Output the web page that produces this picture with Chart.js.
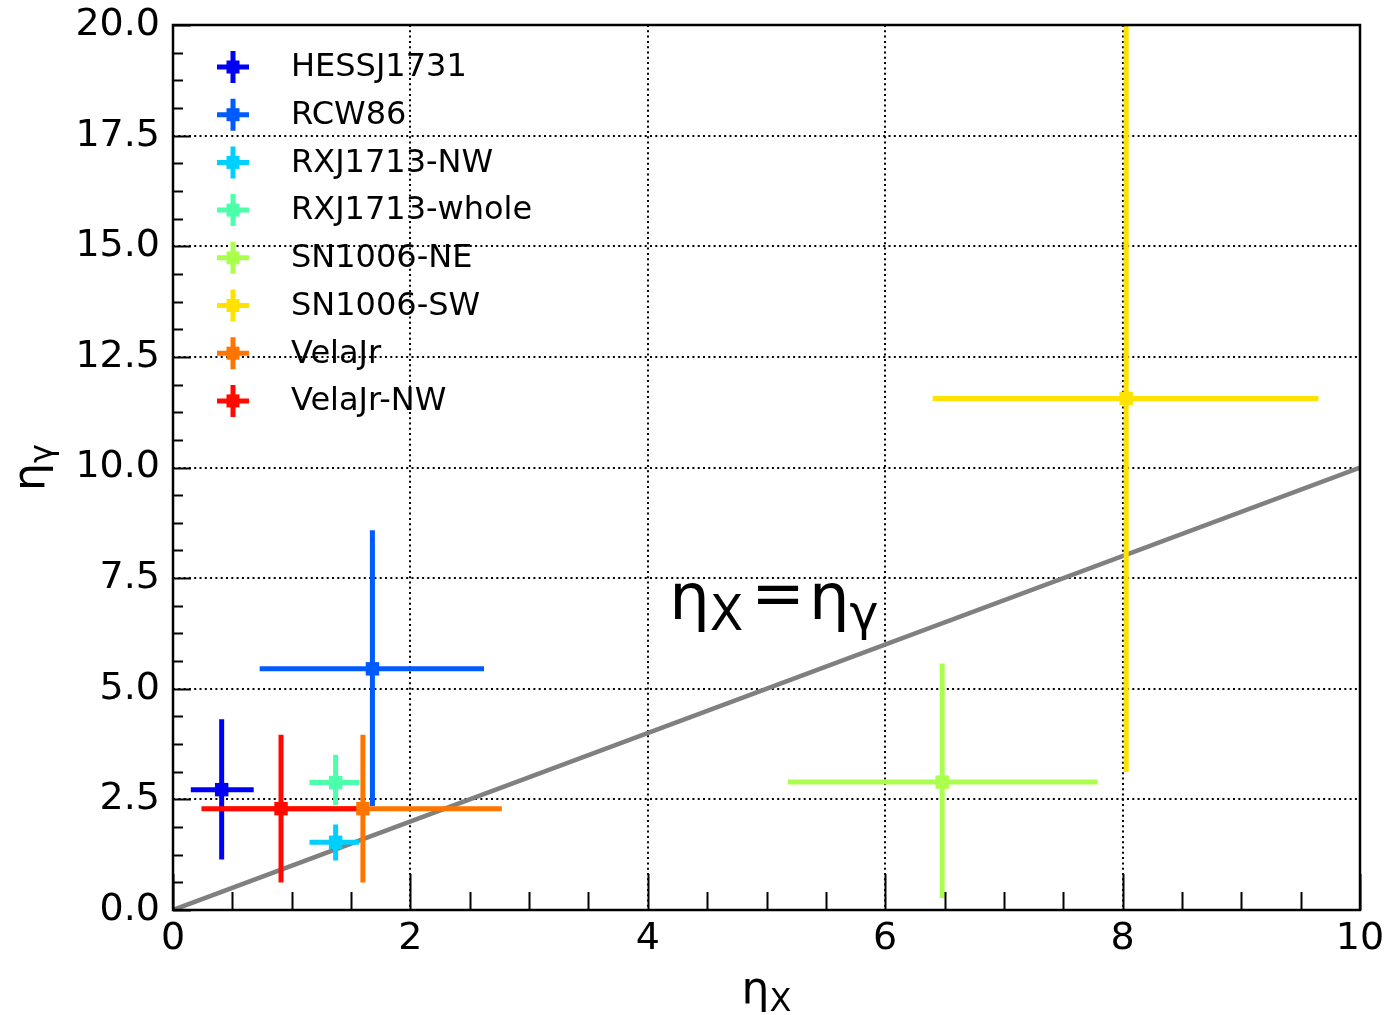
<!DOCTYPE html>
<html>
<head>
<meta charset="utf-8">
<script src="https://cdn.jsdelivr.net/npm/chart.js@4.4.1/dist/chart.umd.min.js"></script>
<style>
  html, body { margin: 0; padding: 0; background: #fff; }
  #wrap { width: 1388px; height: 1015px; }
</style>
</head>
<body>
<div id="wrap"><canvas id="plot" width="1388" height="1015"></canvas></div>
<script>
// sources and their jet colours
const sources = ['HESSJ1731', 'RCW86', 'RXJ1713-NW', 'RXJ1713-whole', 'SN1006-NE', 'SN1006-SW', 'VelaJr', 'VelaJr-NW'];
const colors = ['#0000f4', '#005bff', '#00d0ff', '#4cffaa', '#aaff4c', '#ffe200', '#ff7500', '#ff0900'];

// eta_X with lower / upper error limits
const etaX   = [0.41, 1.68, 1.37, 1.37, 6.48, 8.03, 1.60, 0.91];
const etaXLo = [0.15, 0.73, 1.15, 1.15, 5.18, 6.40, 0.43, 0.24];
const etaXHi = [0.68, 2.62, 1.57, 1.57, 7.79, 9.65, 2.77, 1.57];

// eta_gamma with lower / upper error limits
const etaG   = [2.72, 5.45, 1.53, 2.88, 2.89, 11.56, 2.29, 2.29];
const etaGLo = [1.14, 2.35, 1.12, 2.37, 0.27, 3.12, 0.62, 0.62];
const etaGHi = [4.31, 8.58, 1.93, 3.51, 5.57, 20.0, 3.96, 3.96];

// eta_X = eta_gamma reference line
const diagX = [0, 10];
const diagY = [0, 10];

const xMajor = [0, 2, 4, 6, 8, 10];
const yMajor = [0, 2.5, 5, 7.5, 10, 12.5, 15, 17.5, 20];

const FONT = '"DejaVu Sans", sans-serif';

// draws a base glyph followed by a subscript, returns the advance
function drawSub(ctx, base, sub, x, y, size, k = 0.7) {
  ctx.font = size + 'px ' + FONT;
  ctx.fillText(base, x, y);
  const w1 = ctx.measureText(base).width;
  ctx.font = Math.round(size * k) + 'px ' + FONT;
  ctx.fillText(sub, x + w1, y + size * 0.18);
  return w1 + ctx.measureText(sub).width;
}

function subWidth(ctx, base, sub, size, k = 0.7) {
  ctx.font = size + 'px ' + FONT;
  const w1 = ctx.measureText(base).width;
  ctx.font = Math.round(size * k) + 'px ' + FONT;
  return w1 + ctx.measureText(sub).width;
}

// horizontal + vertical error bars, drawn right above the reference line
const errorBars = {
  id: 'errorBars',
  afterDatasetDraw(chart, args) {
    if (args.index !== sources.length) return;
    const { ctx, chartArea: a, scales: { x, y } } = chart;
    ctx.save();
    ctx.beginPath();
    ctx.rect(a.left, a.top, a.right - a.left, a.bottom - a.top);
    ctx.clip();
    ctx.lineWidth = 5;
    ctx.lineCap = 'butt';
    sources.forEach((s, i) => {
      ctx.strokeStyle = colors[i];
      const px = x.getPixelForValue(etaX[i]);
      const py = y.getPixelForValue(etaG[i]);
      ctx.beginPath();
      ctx.moveTo(x.getPixelForValue(etaXLo[i]), py);
      ctx.lineTo(x.getPixelForValue(etaXHi[i]), py);
      ctx.moveTo(px, y.getPixelForValue(etaGLo[i]));
      ctx.lineTo(px, y.getPixelForValue(etaGHi[i]));
      ctx.stroke();
    });
    ctx.restore();
  }
};

// frame, inward ticks, legend and labels
const decor = {
  id: 'decor',
  afterDraw(chart) {
    const { ctx, chartArea: a, scales: { x, y } } = chart;
    ctx.save();
    ctx.strokeStyle = '#000';
    ctx.lineWidth = 2;
    // x ticks, minor every 0.5
    for (let v = 0; v <= 10.001; v += 0.5) {
      const px = Math.round(x.getPixelForValue(v)) + 0.5;
      const major = Math.abs(v / 2 - Math.round(v / 2)) < 1e-6;
      ctx.beginPath();
      ctx.moveTo(px, a.bottom);
      ctx.lineTo(px, a.bottom - (major ? 36 : 18));
      ctx.stroke();
    }
    // y ticks, minor every 0.625
    for (let v = 0; v <= 20.001; v += 0.625) {
      const py = Math.round(y.getPixelForValue(v)) + 0.5;
      const major = Math.abs(v / 2.5 - Math.round(v / 2.5)) < 1e-6;
      ctx.beginPath();
      ctx.moveTo(a.left, py);
      ctx.lineTo(a.left + (major ? 18 : 10), py);
      ctx.stroke();
    }
    ctx.lineWidth = 2.5;
    ctx.strokeRect(a.left, a.top, a.right - a.left, a.bottom - a.top);

    // legend
    ctx.textBaseline = 'middle';
    ctx.textAlign = 'left';
    sources.forEach((s, i) => {
      const cy = 67 + i * 47.7;
      const cx = 233;
      ctx.strokeStyle = colors[i];
      ctx.fillStyle = colors[i];
      ctx.lineWidth = 5;
      ctx.beginPath();
      ctx.moveTo(cx - 16, cy);
      ctx.lineTo(cx + 16, cy);
      ctx.moveTo(cx, cy - 16);
      ctx.lineTo(cx, cy + 16);
      ctx.stroke();
      ctx.fillRect(cx - 6.5, cy - 6.5, 13, 13);
      ctx.fillStyle = '#000';
      ctx.font = '32px ' + FONT;
      ctx.fillText(s, 291, cy + 1);
    });

    ctx.fillStyle = '#000';
    ctx.textBaseline = 'alphabetic';

    // x axis title
    const xs = 44;
    const xw = subWidth(ctx, 'η', 'X', xs, 0.72);
    drawSub(ctx, 'η', 'X', (a.left + a.right) / 2 - xw / 2, 1003, xs, 0.72);

    // y axis title, rotated
    ctx.save();
    ctx.translate(44, (a.top + a.bottom) / 2);
    ctx.rotate(-Math.PI / 2);
    const yw = subWidth(ctx, 'η', 'γ', xs, 0.72);
    drawSub(ctx, 'η', 'γ', -yw / 2, 0, xs, 0.72);
    ctx.restore();

    // line annotation
    const as = 64;
    let tx = x.getPixelForValue(4.18);
    const ty = y.getPixelForValue(6.58);
    tx += drawSub(ctx, 'η', 'X', tx, ty, as, 0.76);
    tx += 8;
    ctx.font = as + 'px ' + FONT;
    ctx.fillText('=', tx, ty - 4);
    tx += ctx.measureText('=').width + 4;
    drawSub(ctx, 'η', 'γ', tx, ty, as, 0.76);
    ctx.restore();
  }
};

const pointSets = sources.map((s, i) => ({
  label: s,
  data: [{ x: etaX[i], y: etaG[i] }],
  backgroundColor: colors[i],
  borderWidth: 0,
  pointStyle: 'rect',
  pointRadius: 9.5,
  pointHoverRadius: 9.5,
  order: -i
}));

const diagSet = {
  label: 'eta_X = eta_gamma',
  type: 'line',
  data: diagX.map((v, i) => ({ x: v, y: diagY[i] })),
  borderColor: '#808080',
  borderWidth: 4.5,
  pointRadius: 0,
  fill: false,
  order: 10
};

new Chart(document.getElementById('plot'), {
  type: 'scatter',
  data: { datasets: [...pointSets, diagSet] },
  options: {
    responsive: false,
    animation: false,
    devicePixelRatio: 1,
    layout: { padding: { left: 0, top: 25, right: 28, bottom: 0 } },
    plugins: { legend: { display: false }, tooltip: { enabled: false } },
    scales: {
      x: {
        type: 'linear',
        min: 0,
        max: 10,
        afterFit(scale) {
          scale.height = 105;
          scale.paddingLeft = 0;
          scale.paddingRight = 0;
        },
        afterBuildTicks(scale) { scale.ticks = xMajor.map(v => ({ value: v })); },
        ticks: {
          color: '#000',
          padding: 6,
          maxRotation: 0,
          font: { family: 'DejaVu Sans', size: 38 },
          callback: v => String(v)
        },
        grid: { color: '#000', lineWidth: 2, drawTicks: false },
        border: { display: false, dash: [2, 3.3] }
      },
      y: {
        type: 'linear',
        min: 0,
        max: 20,
        afterFit(scale) {
          scale.width = 173;
          scale.paddingTop = 0;
          scale.paddingBottom = 0;
        },
        afterBuildTicks(scale) { scale.ticks = yMajor.map(v => ({ value: v })); },
        ticks: {
          color: '#000',
          padding: 13,
          font: { family: 'DejaVu Sans', size: 38 },
          callback: v => v.toFixed(1)
        },
        grid: { color: '#000', lineWidth: 2, drawTicks: false },
        border: { display: false, dash: [2, 3.3] }
      }
    }
  },
  plugins: [errorBars, decor]
});
</script>
</body>
</html>
